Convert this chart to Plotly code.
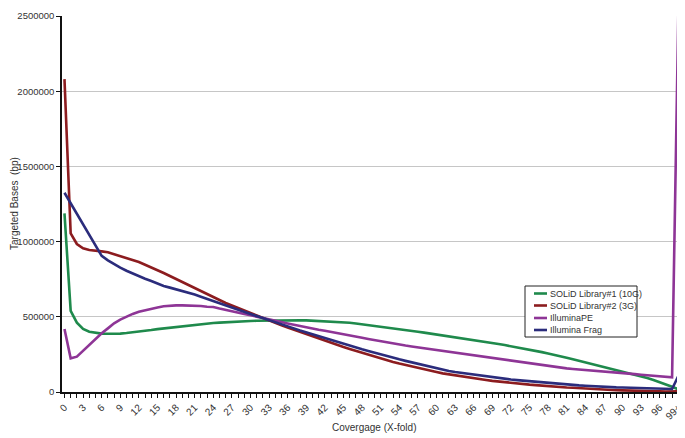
import plotly.graph_objects as go

categories = [str(i) for i in range(99)] + ["99+"]

solid1_10g = [1188000, 539000, 461000, 419000, 401000, 392000, 388000, 387000, 387000, 388000,
              392000, 396000, 401000, 406000, 412000, 418000, 423000, 429000, 434000, 438000,
              441000, 446000, 450000, 455000, 459000, 461000, 464000, 466000, 468000, 470000,
              472000, 474000, 475000, 476000, 477000, 477000, 477000, 477000, 477000, 476000,
              474000, 472000, 470000, 468000, 466000, 464000, 460000, 455000, 450000, 445000,
              440000, 435000, 430000, 425000, 419000, 413000, 407000, 401000, 395000, 389000,
              382000, 375000, 369000, 363000, 357000, 351000, 345000, 339000, 333000, 326000,
              319000, 312000, 305000, 297000, 289000, 281000, 273000, 265000, 256000, 248000,
              238000, 228000, 218000, 208000, 198000, 188000, 178000, 168000, 158000, 148000,
              137000, 126000, 115000, 104000, 93000, 80000, 66000, 50000, 35000, 18000]

solid2_3g = [2080000, 1055000, 984000, 955000, 944000, 937000, 935000, 929000, 917000, 904000,
             891000, 878000, 864000, 846000, 829000, 811000, 791000, 771000, 751000, 733000,
             711000, 691000, 669000, 649000, 629000, 609000, 592000, 575000, 558000, 541000,
             524000, 507000, 491000, 475000, 460000, 444000, 429000, 414000, 399000, 384000,
             369000, 355000, 341000, 327000, 313000, 299000, 286000, 273000, 260000, 247000,
             235000, 223000, 211000, 200000, 189000, 179000, 169000, 160000, 151000, 142000,
             133000, 124000, 117000, 110000, 103000, 97000, 91000, 85000, 80000, 74000,
             69000, 65000, 61000, 57000, 53000, 49000, 46000, 42000, 39000, 36000,
             33000, 30000, 28000, 25000, 23000, 21000, 18000, 16000, 14000, 12000,
             11000, 9000, 8000, 7000, 6000, 5000, 4000, 3500, 3000, 4000]

illumina_pe = [419000, 224000, 235000, 275000, 315000, 350000, 390000, 423000, 457000, 481000,
               501000, 519000, 534000, 545000, 554000, 562000, 570000, 574000, 576000, 576000,
               576000, 574000, 572000, 567000, 565000, 555000, 547000, 538000, 529000, 519000,
               510000, 500000, 492000, 483000, 474000, 465000, 456000, 447000, 437000, 429000,
               421000, 414000, 407000, 400000, 393000, 385000, 377000, 369000, 361000, 353000,
               345000, 337000, 328000, 321000, 315000, 309000, 303000, 297000, 291000, 285000,
               279000, 273000, 267000, 261000, 255000, 248000, 242000, 236000, 230000, 224000,
               218000, 212000, 206000, 200000, 194000, 188000, 182000, 177000, 171000, 164000,
               160000, 157000, 153000, 150000, 147000, 144000, 141000, 138000, 135000, 131000,
               127000, 123000, 119000, 115000, 111000, 107000, 103000, 100000, 98000, 2500000]

illumina_frag = [1325000, 1255000, 1185000, 1115000, 1045000, 970000, 905000, 875000, 849000, 827000,
                 806000, 787000, 769000, 753000, 738000, 721000, 705000, 694000, 683000, 673000,
                 663000, 648000, 634000, 619000, 605000, 590000, 574000, 560000, 546000, 533000,
                 519000, 505000, 492000, 478000, 464000, 450000, 437000, 423000, 409000, 396000,
                 383000, 371000, 358000, 345000, 333000, 320000, 308000, 296000, 284000, 273000,
                 261000, 250000, 238000, 228000, 217000, 207000, 197000, 187000, 177000, 167000,
                 157000, 147000, 140000, 133000, 127000, 121000, 115000, 109000, 103000, 97000,
                 92000, 87000, 83000, 79000, 75000, 71000, 67000, 63000, 59000, 55000,
                 52000, 49000, 47000, 44000, 42000, 39000, 37000, 35000, 33000, 31000,
                 30000, 29000, 27000, 26000, 25000, 24000, 23000, 22000, 20000, 106000]

series_names = ["SOLiD Library#1 (10G)", "SOLiD Library#2 (3G)", "IlluminaPE", "Illumina Frag"]
series_values = [solid1_10g, solid2_3g, illumina_pe, illumina_frag]
series_colors = ["#1f8a4c", "#8c1c1f", "#8e3596", "#2b2c7c"]

y_ticks = [0, 500000, 1000000, 1500000, 2000000, 2500000]

x_title = "Covergage (X-fold)"
y_title = "Targeted Bases  (bp)"

FONT = "Liberation Sans, Arial, sans-serif"
TXT = "#333333"

xpos = list(range(len(categories)))

fig = go.Figure()
for name, vals, col in zip(series_names, series_values, series_colors):
    fig.add_trace(go.Scatter(x=xpos, y=vals, mode="lines", name=name,
                             line=dict(color=col, width=2.6), showlegend=False))

# plot area geometry in screen pixels (page body has an 8px margin)
OFF = 8
L, R, T, B = 62, 682, 16, 392
W, H = 685, 438

def px(x):
    return (x - L) / (R - L)

def py(y):
    return (B - y) / (B - T)

shapes = []
annotations = []
# manual legend
bx0, bx1, by0, by1 = 525, 637, 286, 337
shapes.append(dict(type="rect", xref="paper", yref="paper", x0=px(bx0), x1=px(bx1),
                   y0=py(by1), y1=py(by0), line=dict(color="#222222", width=1),
                   fillcolor="white", layer="above"))
rows = [293.5, 305.5, 318, 330]
for name, col, ry in zip(series_names, series_colors, rows):
    shapes.append(dict(type="line", xref="paper", yref="paper", x0=px(534), x1=px(547),
                       y0=py(ry), y1=py(ry), line=dict(color=col, width=2.6), layer="above"))
    annotations.append(dict(xref="paper", yref="paper", x=px(548), y=py(ry), text=name,
                            showarrow=False, xanchor="left", yanchor="middle",
                            font=dict(family=FONT, size=9, color=TXT)))

# axis titles
annotations.append(dict(xref="paper", yref="paper", x=px(374), y=py(427), text=x_title,
                        showarrow=False, xanchor="center", yanchor="middle",
                        font=dict(family=FONT, size=10, color=TXT)))
annotations.append(dict(xref="paper", yref="paper", x=px(14), y=py(204), text=y_title,
                        showarrow=False, xanchor="center", yanchor="middle", textangle=-90,
                        font=dict(family=FONT, size=10, color=TXT)))

fig.update_layout(
    width=W - OFF, height=H - OFF,
    margin=dict(l=L - OFF, r=W - R, t=T - OFF, b=H - B, autoexpand=False),
    paper_bgcolor="white", plot_bgcolor="white",
    font=dict(family=FONT, size=10, color=TXT),
    shapes=shapes, annotations=annotations,
    showlegend=False,
)
fig.update_xaxes(
    automargin=False,
    range=[-0.4, 99.6], tickmode="array",
    tickvals=xpos[::3], ticktext=categories[::3],
    tickangle=-45, tickfont=dict(size=10, color=TXT),
    ticks="outside", ticklen=4, tickcolor="#111111", tickwidth=1,
    minor=dict(ticks="outside", dtick=1, tick0=0, ticklen=4, tickcolor="#111111", tickwidth=1, showgrid=False),
    showline=True, linecolor="#111111", linewidth=1.5,
    showgrid=False, zeroline=False,
)
fig.update_yaxes(
    automargin=False,
    range=[0, 2500000], tickmode="array", tickvals=y_ticks,
    ticktext=[str(v) for v in y_ticks],
    tickfont=dict(size=9.5, color=TXT),
    ticks="outside", ticklen=4, tickcolor="#111111",
    showline=True, linecolor="#111111", linewidth=1.5,
    showgrid=True, gridcolor="#c6c6c6", gridwidth=1, zeroline=False,
)

fig.write_html("out.html")
